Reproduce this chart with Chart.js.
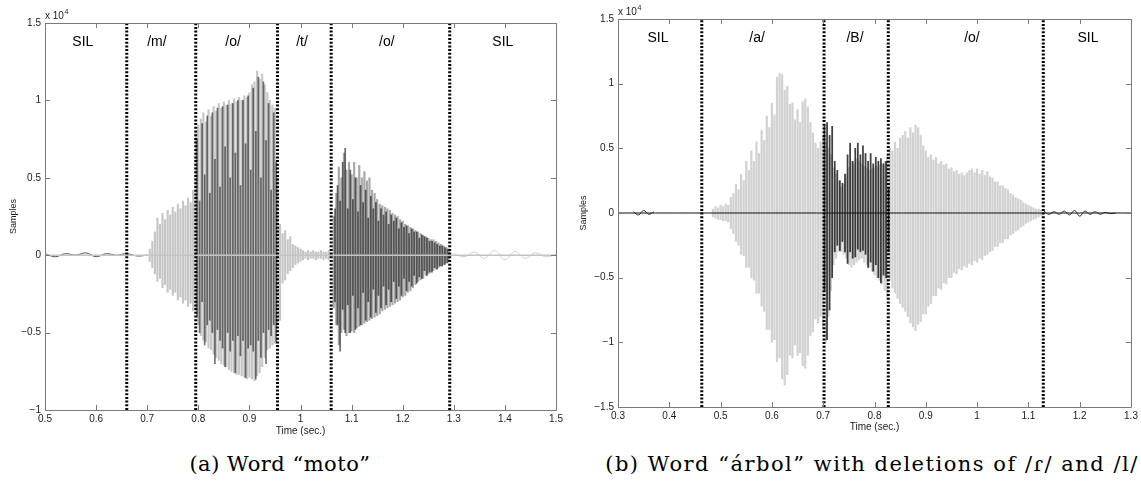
<!DOCTYPE html>
<html>
<head>
<meta charset="utf-8">
<script src="https://cdn.jsdelivr.net/npm/chart.js@4.4.0/dist/chart.umd.min.js"></script>
<style>
  body { margin: 0; width: 1141px; height: 485px; background: #fff; position: relative; overflow: hidden; }
  canvas { position: absolute; top: 0; }
  #chartMoto { left: 0; }
  #chartArbol { left: 570px; }
  .caption { position: absolute; top: 452px; line-height: 24px; font-family: "DejaVu Serif", serif; font-size: 21px;
             white-space: nowrap; transform: translateX(-50%); color: #000; }
</style>
</head>
<body>
<canvas id="chartMoto" width="570" height="450"></canvas>
<canvas id="chartArbol" width="571" height="450"></canvas>
<div class="caption" style="left:280px; letter-spacing:0.5px">(a) Word “moto”</div>
<div class="caption" style="left:872px; letter-spacing:1.5px">(b) Word “árbol” with deletions of /ɾ/ and /l/</div>
<script>
'use strict';

// ---------------- (a) word "moto" ----------------
var motoXTicks = [0.5, 0.6, 0.7, 0.8, 0.9, 1, 1.1, 1.2, 1.3, 1.4, 1.5];
var motoXLabels = ['0.5', '0.6', '0.7', '0.8', '0.9', '1', '1.1', '1.2', '1.3', '1.4', '1.5'];
var motoYTicks = [-1, -0.5, 0, 0.5, 1, 1.5];
var motoYLabels = ['\u22121', '\u22120.5', '0', '0.5', '1', '1.5'];
var motoBounds = [0.66, 0.795, 0.955, 1.06, 1.292];
var motoPhones = ['SIL', '/m/', '/o/', '/t/', '/o/', 'SIL'];
var motoPhoneX = [0.574, 0.719, 0.868, 1.003, 1.169, 1.396];

// light grey signal (x 10^4 samples)
var motoGreyT1 = [0.705,0.71,0.715,0.72,0.725,0.73,0.735,0.74,0.745,0.75,0.755,0.76,0.765,0.77,0.775,0.78,0.785,0.79,0.795,0.8,
  0.805,0.81,0.815,0.82,0.825,0.83,0.835,0.84,0.845,0.85,0.855,0.86,0.865,0.87,0.875,0.88,0.885,0.89,0.895,0.9,
  0.905,0.91,0.915,0.92,0.925,0.93,0.935,0.94,0.945,0.95,0.955,0.96,0.965,0.97,0.975,0.98,0.985,0.99,0.995,1,
  1.005,1.01,1.015,1.02,1.025,1.03,1.035,1.04,1.045,1.05,1.055];
var motoGreyHi1 = [0.04,0.09,0.15,0.24,0.2,0.27,0.23,0.29,0.26,0.31,0.28,0.33,0.3,0.35,0.32,0.37,0.34,0.42,
  0.8,0.84,0.88,0.92,0.86,0.94,0.9,0.96,0.93,0.98,0.95,0.99,0.97,1.0,0.98,1.01,0.99,1.02,1.0,1.03,1.02,1.05,1.1,1.12,1.19,1.14,1.17,1.1,1.05,1.0,0.97,0.95,0.5,
  0.2,0.14,0.16,0.1,0.12,0.07,0.06,0.05,0.04,
  0.03,0.02,0.03,0.02,0.03,0.02,0.02,0.03,0.02,0.02,0.03];
var motoGreyLo1 = [-0.04,-0.08,-0.12,-0.17,-0.15,-0.21,-0.19,-0.24,-0.22,-0.26,-0.24,-0.29,-0.27,-0.31,-0.29,-0.33,-0.31,-0.36,
  -0.36,-0.45,-0.52,-0.55,-0.56,-0.6,-0.61,-0.64,-0.66,-0.68,-0.7,-0.71,-0.72,-0.74,-0.75,-0.76,-0.77,-0.77,-0.78,-0.79,-0.8,-0.79,-0.8,-0.81,-0.78,-0.76,-0.72,-0.66,-0.61,-0.6,-0.58,-0.57,-0.45,
  -0.42,-0.18,-0.16,-0.12,-0.1,-0.08,-0.06,-0.05,-0.04,
  -0.03,-0.02,-0.03,-0.02,-0.02,-0.03,-0.02,-0.02,-0.03,-0.02,-0.03];
var motoGreyT2 = [1.065,1.07,1.075,1.08,1.085,1.09,1.095,1.1,1.105,1.11,1.115,1.12,1.125,1.13,1.135,1.14,1.145,1.15,1.155,1.16,
  1.165,1.17,1.175,1.18,1.185,1.19,1.195,1.2,1.205,1.21,1.215,1.22,1.225,1.23,1.235,1.24,1.245,1.25,1.255,1.26,
  1.265,1.27,1.275,1.28,1.285,1.29];
var motoGreyHi2 = [0.25,0.4,0.57,0.5,0.66,0.55,0.6,0.52,0.6,0.5,0.58,0.5,0.54,0.48,0.5,0.42,0.4,0.36,0.33,0.32,
  0.31,0.3,0.29,0.27,0.26,0.25,0.23,0.22,0.2,0.19,0.18,0.17,0.16,0.15,0.14,0.13,0.12,0.11,0.1,0.1,
  0.09,0.08,0.07,0.06,0.05,0.04];
var motoGreyLo2 = [-0.34,-0.45,-0.58,-0.5,-0.48,-0.52,-0.5,-0.49,-0.5,-0.47,-0.46,-0.45,-0.44,-0.43,-0.42,-0.41,-0.4,-0.39,-0.38,-0.36,
  -0.35,-0.34,-0.33,-0.32,-0.31,-0.3,-0.29,-0.27,-0.26,-0.24,-0.23,-0.21,-0.19,-0.17,-0.16,-0.15,-0.13,-0.12,-0.11,-0.1,
  -0.09,-0.08,-0.07,-0.06,-0.05,-0.04];

// dark signal
var motoDarkT1 = [0.7975,0.8025,0.8075,0.8125,0.8175,0.8225,0.8275,0.8325,0.8375,0.8425,0.8475,0.8525,0.8575,0.8625,0.8675,0.8725,
  0.8775,0.8825,0.8875,0.8925,0.8975,0.9025,0.9075,0.9125,0.9175,0.9225,0.9275,0.9325,0.9375,0.9425,0.9475,0.9525];
var motoDarkHi1 = [0.75,0.35,0.85,0.52,0.9,0.4,0.92,0.62,0.95,0.44,0.96,0.7,0.97,0.5,0.98,0.66,
  1.0,0.45,1.0,0.72,1.03,0.55,1.08,0.8,1.15,0.5,1.12,0.74,0.98,0.42,0.92,0.6];
var motoDarkLo1 = [-0.4,-0.5,-0.3,-0.58,-0.45,-0.42,-0.5,-0.7,-0.48,-0.55,-0.6,-0.72,-0.5,-0.62,-0.55,-0.76,
  -0.52,-0.65,-0.55,-0.79,-0.6,-0.58,-0.62,-0.8,-0.55,-0.66,-0.5,-0.7,-0.48,-0.52,-0.45,-0.56];
var motoDarkT2 = [1.0675,1.0725,1.0775,1.0825,1.0875,1.0925,1.0975,1.1025,1.1075,1.1125,1.1175,1.1225,1.1275,1.1325,1.1375,
  1.1425,1.1475,1.1525,1.1575,1.1625,1.1675,1.1725,1.1775,1.1825,1.1875,1.1925,1.1975,1.2025,1.2075,1.2125,
  1.2175,1.2225,1.2275,1.2325,1.2375,1.2425,1.2475,1.2525,1.2575,1.2625,1.2675,1.2725,1.2775,1.2825,1.2875];
var motoDarkHi2 = [0.3,0.45,0.35,0.6,0.69,0.3,0.55,0.36,0.5,0.28,0.45,0.34,0.42,0.24,0.38,0.3,0.34,0.22,0.3,0.26,
  0.28,0.2,0.26,0.22,0.24,0.17,0.21,0.18,0.19,0.14,0.17,0.15,0.15,0.11,0.13,0.12,0.11,0.09,0.09,0.08,
  0.07,0.06,0.06,0.05,0.04];
var motoDarkLo2 = [-0.3,-0.45,-0.62,-0.35,-0.5,-0.32,-0.5,-0.26,-0.48,-0.34,-0.45,-0.24,-0.42,-0.3,-0.4,-0.22,-0.37,-0.26,-0.34,-0.2,
  -0.32,-0.22,-0.3,-0.17,-0.28,-0.2,-0.26,-0.15,-0.23,-0.17,-0.2,-0.13,-0.18,-0.14,-0.15,-0.1,-0.13,-0.11,-0.11,-0.08,
  -0.09,-0.07,-0.07,-0.06,-0.05];

// silence parts
var motoZeroT = [0.5, 1.5];
var motoZeroV = [0, 0];
var motoNoiseT = [0.5,0.52,0.54,0.56,0.58,0.6,0.62,0.64,0.66,0.68,0.7];
var motoNoiseV = [0.01,-0.01,0.01,0,0.015,-0.01,0.01,0,0.01,-0.005,0];
var motoTailT = [1.3,1.32,1.34,1.36,1.38,1.4,1.42,1.44,1.46,1.48,1.5];
var motoTailV = [0.01,-0.01,0.02,-0.02,0.03,-0.03,0.025,-0.02,0.015,-0.01,0.005];

// ---------------- (b) word "arbol" ----------------
var arbolXTicks = [0.3, 0.4, 0.5, 0.6, 0.7, 0.8, 0.9, 1, 1.1, 1.2, 1.3];
var arbolXLabels = ['0.3', '0.4', '0.5', '0.6', '0.7', '0.8', '0.9', '1', '1.1', '1.2', '1.3'];
var arbolYTicks = [-1.5, -1, -0.5, 0, 0.5, 1, 1.5];
var arbolYLabels = ['\u22121.5', '\u22121', '\u22120.5', '0', '0.5', '1', '1.5'];
var arbolBounds = [0.4633, 0.7016, 0.8269, 1.129];
var arbolPhones = ['SIL', '/a/', '/B/', '/o/', 'SIL'];
var arbolPhoneX = [0.378, 0.571, 0.762, 0.99, 1.216];

var arbolGreyT = [0.485,0.49,0.495,0.5,0.505,0.51,0.515,0.52,0.525,0.53,
  0.535,0.54,0.545,0.55,0.555,0.56,0.565,0.57,0.575,0.58,
  0.585,0.59,0.595,0.6,0.605,0.61,0.615,0.62,0.625,0.63,
  0.635,0.64,0.645,0.65,0.655,0.66,0.665,0.67,0.675,0.68,
  0.685,0.69,0.695,0.7,0.705,0.71,0.715,0.72,0.725,0.73,
  0.735,0.74,0.745,0.75,0.755,0.76,0.765,0.77,0.775,0.78,
  0.785,0.79,0.795,0.8,0.805,0.81,0.815,0.82,0.825,0.83,
  0.835,0.84,0.845,0.85,0.855,0.86,0.865,0.87,0.875,0.88,
  0.885,0.89,0.895,0.9,0.905,0.91,0.915,0.92,0.925,0.93,
  0.935,0.94,0.945,0.95,0.955,0.96,0.965,0.97,0.975,0.98,
  0.985,0.99,0.995,1,1.005,1.01,1.015,1.02,1.025,1.03,
  1.035,1.04,1.045,1.05,1.055,1.06,1.065,1.07,1.075,1.08,
  1.085,1.09,1.095,1.1,1.105,1.11,1.115,1.12,1.125];
var arbolGreyHi = [0.03,0.05,0.04,0.06,0.05,0.07,0.06,0.12,0.15,0.22,
  0.18,0.3,0.25,0.4,0.33,0.48,0.4,0.55,0.46,0.64,
  0.56,0.75,0.66,0.85,0.76,1.05,1.08,1.07,0.95,0.98,
  0.84,0.85,0.72,0.8,0.7,0.86,0.88,0.82,0.7,0.62,
  0.54,0.5,0.55,0.6,0.55,0.5,0.45,0.35,0.3,0.25,
  0.2,0.22,0.3,0.35,0.4,0.38,0.42,0.4,0.38,0.36,
  0.35,0.33,0.34,0.35,0.36,0.37,0.38,0.4,0.45,0.5,
  0.48,0.55,0.5,0.58,0.6,0.63,0.58,0.66,0.62,0.68,
  0.66,0.6,0.52,0.48,0.43,0.45,0.41,0.43,0.38,0.4,
  0.37,0.38,0.34,0.35,0.32,0.33,0.3,0.31,0.29,0.31,
  0.33,0.34,0.31,0.34,0.3,0.33,0.29,0.32,0.28,0.27,
  0.24,0.24,0.21,0.21,0.19,0.18,0.15,0.14,0.12,0.11,
  0.1,0.08,0.07,0.06,0.05,0.04,0.03,0.03,0.02];
var arbolGreyLo = [-0.03,-0.04,-0.05,-0.05,-0.06,-0.06,-0.07,-0.12,-0.16,-0.22,
  -0.25,-0.32,-0.33,-0.42,-0.42,-0.5,-0.52,-0.62,-0.62,-0.72,
  -0.76,-0.9,-0.9,-1.0,-0.98,-1.15,-1.12,-1.28,-1.33,-1.25,
  -1.1,-1.12,-1.02,-1.1,-1.08,-1.18,-1.2,-1.1,-0.95,-0.92,
  -0.82,-0.85,-0.8,-0.9,-1.0,-0.8,-0.6,-0.4,-0.35,-0.3,
  -0.3,-0.32,-0.35,-0.4,-0.42,-0.4,-0.38,-0.36,-0.35,-0.38,
  -0.4,-0.42,-0.45,-0.48,-0.5,-0.52,-0.55,-0.6,-0.65,-0.52,
  -0.58,-0.62,-0.66,-0.7,-0.73,-0.76,-0.8,-0.85,-0.88,-0.91,
  -0.86,-0.84,-0.78,-0.78,-0.72,-0.7,-0.64,-0.64,-0.58,-0.59,
  -0.54,-0.55,-0.5,-0.5,-0.46,-0.47,-0.43,-0.44,-0.41,-0.42,
  -0.39,-0.4,-0.37,-0.38,-0.35,-0.36,-0.33,-0.32,-0.3,-0.29,
  -0.26,-0.26,-0.23,-0.23,-0.2,-0.2,-0.17,-0.16,-0.14,-0.13,
  -0.11,-0.1,-0.08,-0.07,-0.06,-0.05,-0.04,-0.03,-0.02];

var arbolDarkT = [0.7025,0.7075,0.7125,0.7175,0.7225,0.7275,0.7325,0.7375,0.7425,0.7475,
  0.7525,0.7575,0.7625,0.7675,0.7725,0.7775,0.7825,0.7875,0.7925,0.7975,
  0.8025,0.8075,0.8125,0.8175,0.8225,0.8275];
var arbolDarkHi = [0.68,0.7,0.6,0.67,0.4,0.33,0.25,0.23,0.3,0.45,0.54,0.4,0.5,0.54,0.45,0.52,0.46,0.4,0.46,0.38,
  0.43,0.4,0.42,0.38,0.4,0.2];
var arbolDarkLo = [-0.6,-0.98,-0.75,-0.5,-0.3,-0.25,-0.29,-0.22,-0.3,-0.39,-0.3,-0.35,-0.34,-0.28,-0.3,-0.29,-0.32,-0.42,-0.38,-0.45,
  -0.4,-0.5,-0.54,-0.48,-0.5,-0.3];

var arbolZeroT = [0.3, 1.3];
var arbolZeroV = [0, 0];
var arbolNoiseT = [0.33,0.34,0.35,0.36,0.37];
var arbolNoiseV = [0.01,-0.015,0.02,-0.01,0.01];
var arbolTailT = [1.13,1.14,1.15,1.16,1.17,1.18,1.19,1.2,1.21,1.22,1.23,1.24,1.25,1.26,1.27];
var arbolTailV = [0.015,-0.01,0.01,-0.01,0.015,-0.015,0.02,-0.025,0.015,-0.01,0.01,-0.01,0.005,-0.005,0];

// ------------------------------------------------------- //
// helpers
// ------------------------------------------------------- //
var SANS = '"Liberation Sans", Arial, Helvetica, sans-serif';

function toBars(t, lo, hi) {
    return t.map(function (v, i) { return { x: v, y: [lo[i], hi[i]] }; });
}
function toPoints(t, v) {
    return t.map(function (x, i) { return { x: x, y: v[i] }; });
}
function barSet(data, color, thick, order) {
    return { type: 'bar', data: data, backgroundColor: color, barThickness: thick, grouped: false, borderWidth: 0, order: order };
}
function lineSet(data, color, width, order) {
    return { type: 'line', data: data, borderColor: color, borderWidth: width, pointRadius: 0, tension: 0.4, fill: false, order: order };
}
function boundarySets(bounds, yMin, yMax) {
    return bounds.map(function (b) {
        return { type: 'line', data: [{ x: b, y: yMin }, { x: b, y: yMax }], borderColor: '#000', borderWidth: 3,
                 borderDash: [2, 1.7], pointRadius: 0, fill: false, order: 0 };
    });
}

// matlab-like box, inner ticks, phone labels and the x10^4 exponent
var matlabAxes = {
    id: 'matlabAxes',
    afterDatasetsDraw: function (chart, args, opts) {
        var ctx = chart.ctx, a = chart.chartArea;
        var xs = chart.scales.x, ys = chart.scales.y;
        ctx.save();
        ctx.strokeStyle = '#7a7a7a';
        ctx.lineWidth = 1;
        ctx.beginPath();
        ctx.rect(Math.round(a.left) + 0.5, Math.round(a.top) + 0.5, Math.round(a.right - a.left), Math.round(a.bottom - a.top));
        xs.ticks.forEach(function (t) {
            var px = Math.round(xs.getPixelForValue(t.value)) + 0.5;
            ctx.moveTo(px, a.bottom); ctx.lineTo(px, a.bottom - 5);
            ctx.moveTo(px, a.top); ctx.lineTo(px, a.top + 5);
        });
        ys.ticks.forEach(function (t) {
            var py = Math.round(ys.getPixelForValue(t.value)) + 0.5;
            ctx.moveTo(a.left, py); ctx.lineTo(a.left + 5, py);
            ctx.moveTo(a.right, py); ctx.lineTo(a.right - 5, py);
        });
        ctx.stroke();

        ctx.fillStyle = '#000';
        ctx.font = '14px ' + SANS;
        ctx.textAlign = 'center';
        ctx.textBaseline = 'middle';
        opts.phones.forEach(function (p, i) {
            ctx.fillText(p, xs.getPixelForValue(opts.phoneX[i]), ys.getPixelForValue(opts.phoneY));
        });

        ctx.fillStyle = '#1a1a1a';
        ctx.textAlign = 'left';
        ctx.textBaseline = 'alphabetic';
        ctx.font = '10px ' + SANS;
        ctx.fillText('x 10', a.left, a.top - 4);
        var w = ctx.measureText('x 10').width;
        ctx.font = '7px ' + SANS;
        ctx.fillText('4', a.left + w + 0.5, a.top - 9);
        ctx.restore();
    }
};

function waveOptions(o) {
    return {
        responsive: false,
        animation: false,
        layout: { padding: { top: o.padTop, right: o.padRight, left: 0, bottom: 0 } },
        plugins: {
            legend: { display: false },
            tooltip: { enabled: false },
            matlabAxes: { phones: o.phones, phoneX: o.phoneX, phoneY: o.phoneY }
        },
        scales: {
            x: {
                type: 'linear', min: o.xMin, max: o.xMax, offset: false,
                grid: { display: false, offset: false, drawTicks: false },
                border: { display: false },
                afterBuildTicks: function (s) { s.ticks = o.xTicks.map(function (v) { return { value: v }; }); },
                afterFit: function (s) { s.height = o.xAxisH; },
                ticks: { autoSkip: false, maxRotation: 0, padding: 3, color: '#1a1a1a', font: { family: SANS, size: 10 },
                         callback: function (v, i) { return o.xLabels[i]; } },
                title: { display: true, text: 'Time (sec.)', color: '#1a1a1a', font: { family: SANS, size: 10 },
                         padding: { top: 0, bottom: o.xTitlePad } }
            },
            y: {
                type: 'linear', min: o.yMin, max: o.yMax,
                grid: { display: false, drawTicks: false },
                border: { display: false },
                afterBuildTicks: function (s) { s.ticks = o.yTicks.map(function (v) { return { value: v }; }); },
                afterFit: function (s) { s.width = o.yAxisW; },
                ticks: { autoSkip: false, padding: 4, color: '#1a1a1a', font: { family: SANS, size: 10 },
                         callback: function (v, i) { return o.yLabels[i]; } },
                title: { display: true, text: 'Samples', color: '#1a1a1a', font: { family: SANS, size: 9 },
                         padding: { top: 8, bottom: 0 } }
            }
        }
    };
}

// ------------------------------------------------------- //
// Chart (a)
// ------------------------------------------------------- //
var motoSets = [
    lineSet(toPoints(motoZeroT, motoZeroV), '#c4c4c4', 1.5, 1),
    lineSet(toPoints(motoNoiseT, motoNoiseV), '#555', 1, 2),
    lineSet(toPoints(motoTailT, motoTailV), '#cfcfcf', 1, 3),
    barSet(toBars(motoDarkT1, motoDarkLo1, motoDarkHi1), 'rgba(0,0,0,0.55)', 1, 4),
    barSet(toBars(motoDarkT2, motoDarkLo2, motoDarkHi2), 'rgba(0,0,0,0.6)', 1, 4),
    barSet(toBars(motoGreyT1, motoGreyLo1, motoGreyHi1), '#c6c6c6', 1.5, 5),
    barSet(toBars(motoGreyT2, motoGreyLo2, motoGreyHi2), '#a8a8a8', 1.5, 5)
].concat(boundarySets(motoBounds, -1, 1.5));

new Chart(document.getElementById('chartMoto').getContext('2d'), {
    type: 'bar',
    data: { datasets: motoSets },
    options: waveOptions({
        padTop: 23, padRight: 14, xAxisH: 40, yAxisW: 45, xTitlePad: 13,
        xMin: 0.5, xMax: 1.5, yMin: -1, yMax: 1.5,
        xTicks: motoXTicks, xLabels: motoXLabels, yTicks: motoYTicks, yLabels: motoYLabels,
        phones: motoPhones, phoneX: motoPhoneX, phoneY: 1.376
    }),
    plugins: [matlabAxes]
});

// ------------------------------------------------------- //
// Chart (b)
// ------------------------------------------------------- //
var arbolSets = [
    lineSet(toPoints(arbolZeroT, arbolZeroV), '#111', 1, 1),
    lineSet(toPoints(arbolNoiseT, arbolNoiseV), '#333', 1, 2),
    lineSet(toPoints(arbolTailT, arbolTailV), '#333', 1, 2),
    barSet(toBars(arbolDarkT, arbolDarkLo, arbolDarkHi), 'rgba(0,0,0,0.75)', 1.1, 4),
    barSet(toBars(arbolGreyT, arbolGreyLo, arbolGreyHi), '#d2d2d2', 1.6, 5)
].concat(boundarySets(arbolBounds, -1.5, 1.5));

new Chart(document.getElementById('chartArbol').getContext('2d'), {
    type: 'bar',
    data: { datasets: arbolSets },
    options: waveOptions({
        padTop: 19, padRight: 10, xAxisH: 43, yAxisW: 48, xTitlePad: 17,
        xMin: 0.3, xMax: 1.3, yMin: -1.5, yMax: 1.5,
        xTicks: arbolXTicks, xLabels: arbolXLabels, yTicks: arbolYTicks, yLabels: arbolYLabels,
        phones: arbolPhones, phoneX: arbolPhoneX, phoneY: 1.353
    }),
    plugins: [matlabAxes]
});
</script>
</body>
</html>
